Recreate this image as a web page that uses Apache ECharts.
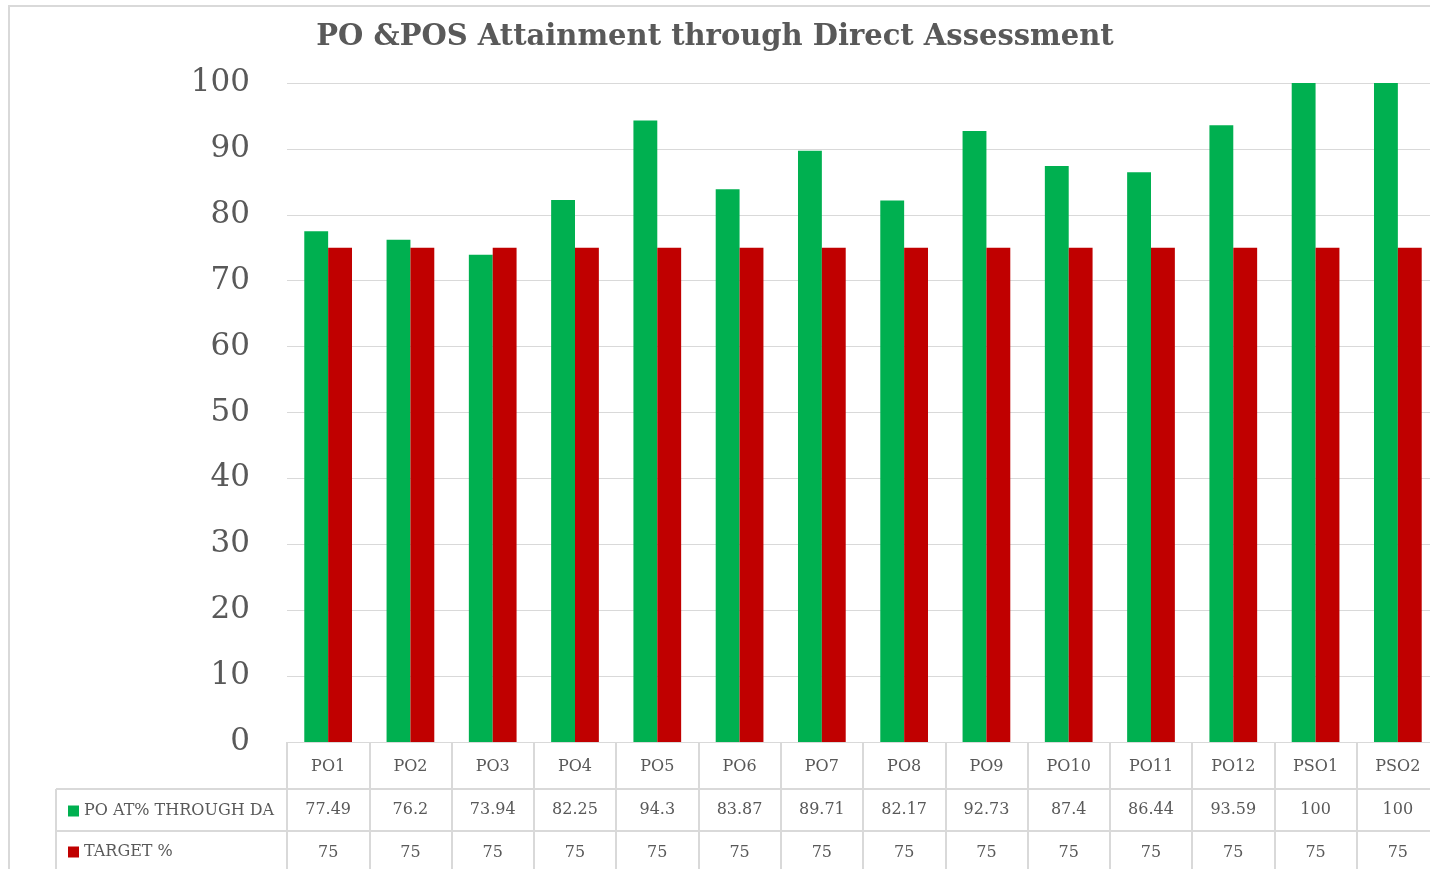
<!DOCTYPE html>
<html>
<head>
<meta charset="utf-8">
<title>PO &POS Attainment through Direct Assessment</title>
<script src="https://cdn.jsdelivr.net/npm/echarts@6/dist/echarts.min.js"></script>
<style>
  html, body { margin: 0; padding: 0; background: #fff; }
  #main { width: 1430px; height: 869px; }
</style>
</head>
<body>
<div id="main"></div>
<script>
// chart data
var categories = ['PO1', 'PO2', 'PO3', 'PO4', 'PO5', 'PO6', 'PO7', 'PO8', 'PO9', 'PO10', 'PO11', 'PO12', 'PSO1', 'PSO2'];
var attainment = [77.49, 76.2, 73.94, 82.25, 94.3, 83.87, 89.71, 82.17, 92.73, 87.4, 86.44, 93.59, 100, 100];
var target = [75, 75, 75, 75, 75, 75, 75, 75, 75, 75, 75, 75, 75, 75];
var seriesNames = ['PO AT% THROUGH DA', 'TARGET %'];
var yTicks = [0, 100, 10]; // min, max, interval

var textColor = '#595959';
var lineColor = '#d9d9d9';
var serif = '"DejaVu Serif", "Liberation Serif", serif';

var chart = echarts.init(document.getElementById('main'));

var option = {
    backgroundColor: '#fff',
    animation: false,
    title: {
        text: 'PO &POS Attainment through Direct Assessment',
        left: 'center',
        top: 18,
        textStyle: { fontFamily: serif, fontSize: 29, fontWeight: 'bold', color: textColor }
    },
    legend: {
        data: seriesNames,
        orient: 'vertical',
        left: 63,
        top: 798,
        itemWidth: 11,
        itemHeight: 11,
        itemGap: 25,
        icon: 'rect',
        selectedMode: false,
        textStyle: { fontFamily: serif, fontSize: 16, color: textColor }
    },
    // the plot runs a little past the right edge, as in the original
    grid: { left: 287, top: 83, width: 1152, bottom: 127, containLabel: false, outerBoundsMode: 'none' },
    xAxis: {
        type: 'category',
        data: categories,
        axisLine: { lineStyle: { color: lineColor, width: 1 } },
        axisTick: { show: true, length: 140, lineStyle: { color: lineColor, width: 2 } },
        axisLabel: {
            interval: 0,
            margin: 3,
            formatter: function (v, i) {
                return '{c|' + v + '}\n{v|' + attainment[i] + '}\n{v|' + target[i] + '}';
            },
            rich: {
                c: { fontFamily: serif, fontSize: 16, color: textColor, lineHeight: 43 },
                v: { fontFamily: serif, fontSize: 16, color: textColor, lineHeight: 43 }
            }
        }
    },
    yAxis: {
        type: 'value',
        min: yTicks[0],
        max: yTicks[1],
        interval: yTicks[2],
        axisLine: { show: false },
        axisTick: { show: false },
        axisLabel: { margin: 37, padding: [6, 0, 0, 0], fontFamily: serif, fontSize: 31, color: textColor },
        splitLine: { lineStyle: { color: lineColor, width: 1 } }
    },
    series: [
        {
            name: seriesNames[0],
            type: 'bar',
            data: attainment,
            barWidth: '29%',
            barGap: '0%',
            itemStyle: { color: '#00B050' }
        },
        {
            name: seriesNames[1],
            type: 'bar',
            data: target,
            barWidth: '29%',
            itemStyle: { color: '#C00000' }
        }
    ],
    graphic: [
        // outer frame
        { type: 'rect', shape: { x: 9, y: 6, width: 1440, height: 900 }, style: { fill: 'none', stroke: lineColor, lineWidth: 2 }, silent: true },
        // data table rows
        { type: 'line', shape: { x1: 56, y1: 789, x2: 1440, y2: 789 }, style: { stroke: lineColor, lineWidth: 2 }, silent: true },
        { type: 'line', shape: { x1: 56, y1: 831, x2: 1440, y2: 831 }, style: { stroke: lineColor, lineWidth: 2 }, silent: true },
        { type: 'line', shape: { x1: 56, y1: 789, x2: 56, y2: 880 }, style: { stroke: lineColor, lineWidth: 2 }, silent: true }
    ]
};

chart.setOption(option);
</script>
</body>
</html>
